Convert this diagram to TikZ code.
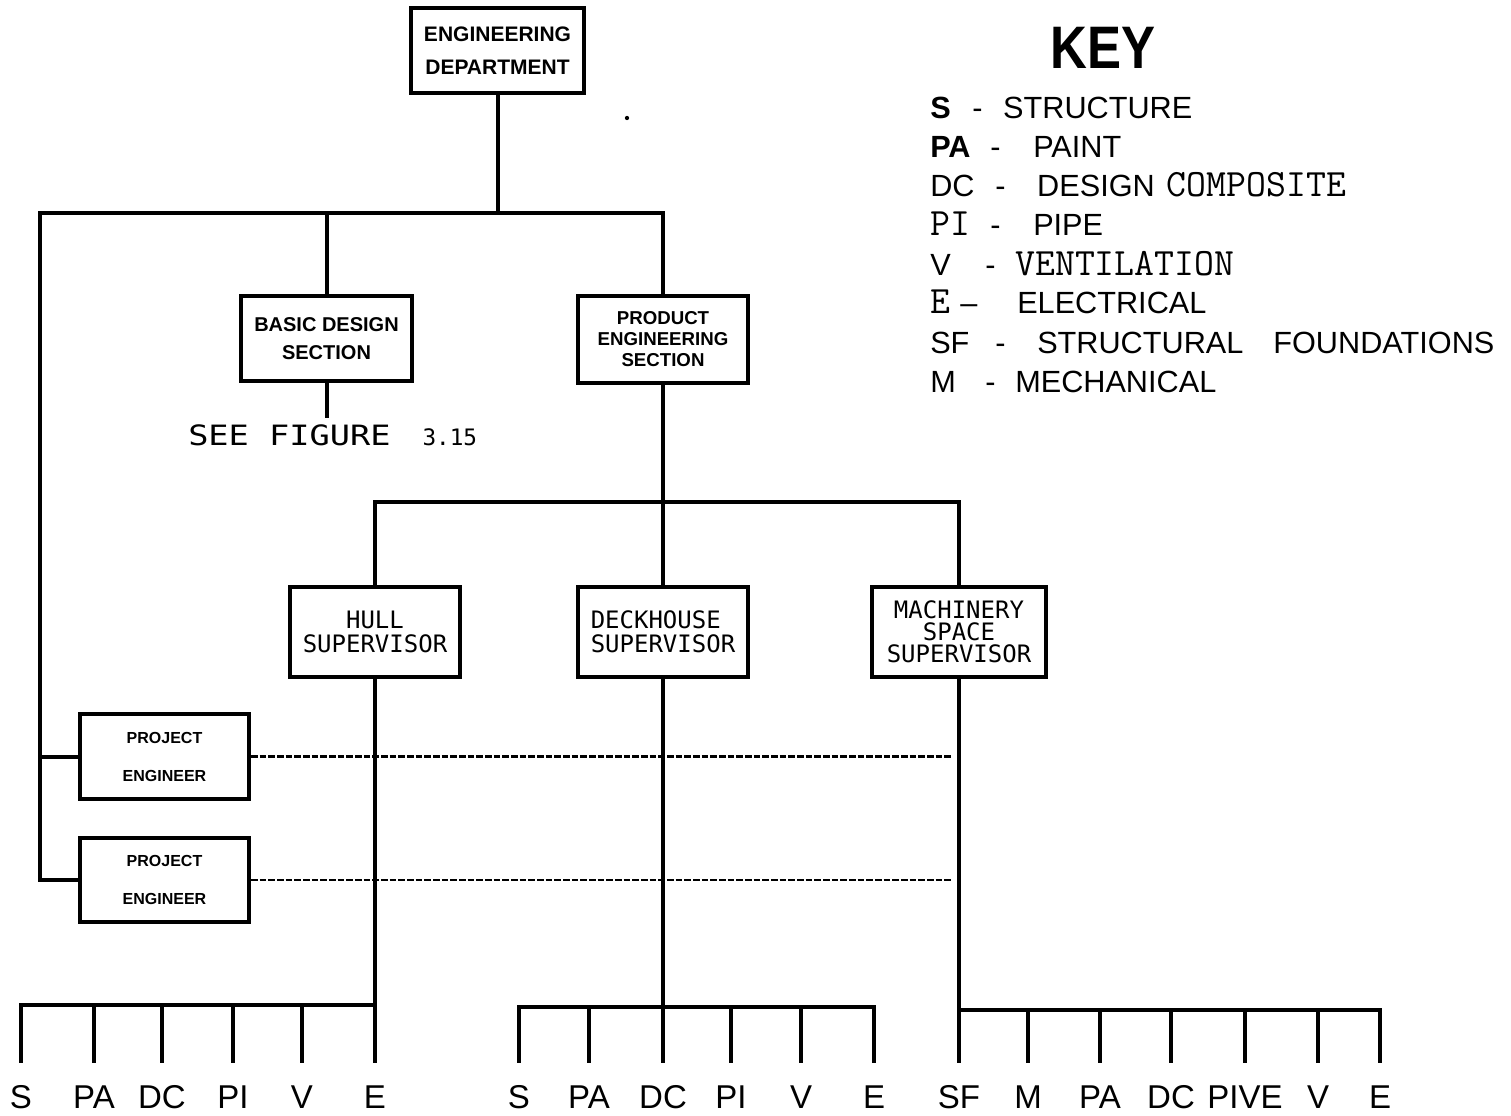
\documentclass[tikz,border=0pt]{standalone}
\usepackage{fontspec}
\usepackage{graphicx}
\usepackage{tikz}
\usetikzlibrary{calc}

\newfontfamily\lsans{Liberation Sans}
\newfontfamily\dmono{DejaVu Sans Mono}
\newfontfamily\plotmono[FakeStretch=1.2]{DejaVu Sans Mono}
\newdimen\pxunit \pxunit=0.75pt
\newcommand{\keytt}[1]{{\ttfamily\fontsize{29}{29}\selectfont #1}}

\tikzset{
	orgline/.style={line width=3pt,line cap=rect},
	tickline/.style={orgline,shorten >=18pt},
	dashlink/.style={line width=1.8pt,dash pattern=on 5pt off 1.5pt,shorten >=4.5pt},
	unitbox/.style={draw,line width=3pt,align=center,inner sep=0pt},
	supbox/.style={draw,line width=3pt,inner sep=0pt,minimum width=127.5pt,minimum height=67.5pt},
	trade/.style={anchor=base,inner sep=0pt,font=\lsans\fontsize{24.75}{24.75}\selectfont},
	keyrow/.style={anchor=base west,inner sep=0pt,font=\lsans\fontsize{23}{23}\selectfont}
}

\begin{document}
\begin{tikzpicture}[x=0.75pt,y=-0.75pt]
			
			\useasboundingbox (0,0) rectangle (1511,1115);
			
			% top of the tree
			\node[unitbox,minimum width=129.75pt,minimum height=63.75pt,
			font=\lsans\bfseries\fontsize{15.75}{24.75}\selectfont]
			(eng) at (497.5,50.5) {ENGINEERING\\DEPARTMENT};
			\fill (627,118) circle (1.6pt);
			
			\node[unitbox,minimum width=128.25pt,minimum height=63.75pt,
			font=\lsans\bfseries\fontsize{15}{21}\selectfont]
			(basic) at (326.5,338.5) {BASIC DESIGN\\SECTION};
			\node[unitbox,minimum width=127.5pt,minimum height=65.25pt,
			font=\lsans\bfseries\fontsize{14}{15.75}\selectfont]
			(prod) at (663,339.5) {PRODUCT\\ENGINEERING\\SECTION};
			
			\node[anchor=base west,inner sep=0pt,font=\plotmono\fontsize{21}{21}\selectfont]
			(seefig) at (188,445) {SEE FIGURE\hspace{32\pxunit}{\dmono\fontsize{17}{17}\selectfont 3.15}};
			
			% supervisors
			\node[supbox,align=center,font=\dmono\fontsize{18}{18}\selectfont]
			(hull) at (375,632) {HULL\\SUPERVISOR};
			\node[supbox,align=left,font=\dmono\fontsize{18}{18}\selectfont]
			(deck) at (663,632) {DECKHOUSE\\SUPERVISOR};
			\node[supbox,align=center,minimum width=130.5pt,font=\dmono\fontsize{18}{16.5}\selectfont]
			(mach) at (959,632) {MACHINERY\\SPACE\\SUPERVISOR};
			
			% project engineers
			\node[unitbox,minimum width=126.75pt,minimum height=63.75pt,
			font=\lsans\bfseries\fontsize{12}{28.5}\selectfont]
			(pe1) at (164.5,756.5) {PROJECT\\ENGINEER};
			\node[unitbox,minimum width=126.75pt,minimum height=63pt,
			font=\lsans\bfseries\fontsize{12}{28.5}\selectfont]
			(pe2) at (164.5,880) {PROJECT\\ENGINEER};
			
			\coordinate (busA) at (40,213);
			\coordinate (busB) at (0,502);
			\coordinate (g1) at (0,1005);
			\coordinate (g2) at (0,1007);
			\coordinate (g3) at (0,1010);
			
			\draw[orgline] (eng.south) -- (eng.south |- busA);
			\draw[orgline] (pe2.west) -- (pe2.west -| busA) -- (busA)
			-- (busA -| prod.north) -- (prod.north);
			\draw[orgline] (basic.north) -- (basic.north |- busA);
			\draw[orgline] (pe1.west) -- (pe1.west -| busA);
			\draw[orgline,shorten >=6pt] (basic.south) -- (basic.south |- seefig.north);
			
			\draw[orgline] (prod.south) -- (deck.north);
			\draw[orgline] (hull.north) -- (hull.north |- busB)
			-- (mach.north |- busB) -- (mach.north);
			
			\draw[dashlink] (pe1.east) -- (pe1.east -| mach.south);
			\draw[dashlink] (pe2.east) -- (pe2.east -| mach.south);
			
			% hull trades
			\node[trade] (hS) at (21,1108) {S};
			\node[trade] (hPA) at (94,1108) {PA};
			\node[trade] (hDC) at (162,1108) {DC};
			\node[trade] (hPI) at (233,1108) {PI};
			\node[trade] (hV) at (302,1108) {V};
			\node[trade] (hE) at (375,1108) {E};
			\draw[tickline] (hull.south) -- (hE.north);
			\draw[orgline] (hS.north |- g1) -- (hE.north |- g1);
			\draw[tickline] (hS.north |- g1) -- (hS.north);
			\draw[tickline] (hPA.north |- g1) -- (hPA.north);
			\draw[tickline] (hDC.north |- g1) -- (hDC.north);
			\draw[tickline] (hPI.north |- g1) -- (hPI.north);
			\draw[tickline] (hV.north |- g1) -- (hV.north);
			
			% deckhouse trades
			\node[trade] (dS) at (519,1108) {S};
			\node[trade] (dPA) at (589,1108) {PA};
			\node[trade] (dDC) at (663,1108) {DC};
			\node[trade] (dPI) at (731,1108) {PI};
			\node[trade] (dV) at (801,1108) {V};
			\node[trade] (dE) at (874,1108) {E};
			\draw[tickline] (deck.south) -- (dDC.north);
			\draw[orgline] (dS.north |- g2) -- (dE.north |- g2);
			\draw[tickline] (dS.north |- g2) -- (dS.north);
			\draw[tickline] (dPA.north |- g2) -- (dPA.north);
			\draw[tickline] (dPI.north |- g2) -- (dPI.north);
			\draw[tickline] (dV.north |- g2) -- (dV.north);
			\draw[tickline] (dE.north |- g2) -- (dE.north);
			
			% machinery space trades
			\node[trade] (mSF) at (959,1108) {SF};
			\node[trade] (mM) at (1028,1108) {M};
			\node[trade] (mPA) at (1100,1108) {PA};
			\node[trade] (mDC) at (1171,1108) {DC};
			\node[trade] (mPIVE) at (1245,1108) {PIVE};
			\node[trade] (mV) at (1318,1108) {V};
			\node[trade] (mE) at (1380,1108) {E};
			\draw[tickline] (mach.south) -- (mSF.north);
			\draw[orgline] (mSF.north |- g3) -- (mE.north |- g3);
			\draw[tickline] (mM.north |- g3) -- (mM.north);
			\draw[tickline] (mPA.north |- g3) -- (mPA.north);
			\draw[tickline] (mDC.north |- g3) -- (mDC.north);
			\draw[tickline] (mPIVE.north |- g3) -- (mPIVE.north);
			\draw[tickline] (mV.north |- g3) -- (mV.north);
			\draw[tickline] (mE.north |- g3) -- (mE.north);
			
			% key
			\node[anchor=base,inner sep=0pt,font=\lsans\bfseries\fontsize{45}{45}\selectfont]
			(keytitle) at (1103,68) {\scalebox{0.85}[1]{KEY}};
			\node[keyrow] (kS) at (930,118)
			{\makebox[42\pxunit][l]{\bfseries S}\makebox[31\pxunit][l]{-}STRUCTURE};
			\node[keyrow] (kPA) at (930,157)
			{\makebox[60\pxunit][l]{\bfseries PA}\makebox[43\pxunit][l]{-}PAINT};
			\node[keyrow] (kDC) at (930,196)
			{\makebox[65\pxunit][l]{DC}\makebox[42\pxunit][l]{-}DESIGN\hspace{12\pxunit}\keytt{COMPOSITE}};
			\node[keyrow] (kPI) at (930,235)
			{\makebox[60\pxunit][l]{\keytt{PI}}\makebox[43\pxunit][l]{-}PIPE};
			\node[keyrow] (kV) at (930,275)
			{\makebox[55\pxunit][l]{V}\makebox[30\pxunit][l]{-}\keytt{VENTILATION}};
			\node[keyrow] (kE) at (930,313)
			{\makebox[30\pxunit][l]{\keytt{E}}\makebox[57\pxunit][l]{–}ELECTRICAL};
			\node[keyrow] (kSF) at (930,353)
			{\makebox[65\pxunit][l]{SF}\makebox[42\pxunit][l]{-}STRUCTURAL\hspace{30\pxunit}FOUNDATIONS};
			\node[keyrow] (kM) at (930,392)
			{\makebox[55\pxunit][l]{M}\makebox[30\pxunit][l]{-}MECHANICAL};
			
		\end{tikzpicture}
\end{document}
